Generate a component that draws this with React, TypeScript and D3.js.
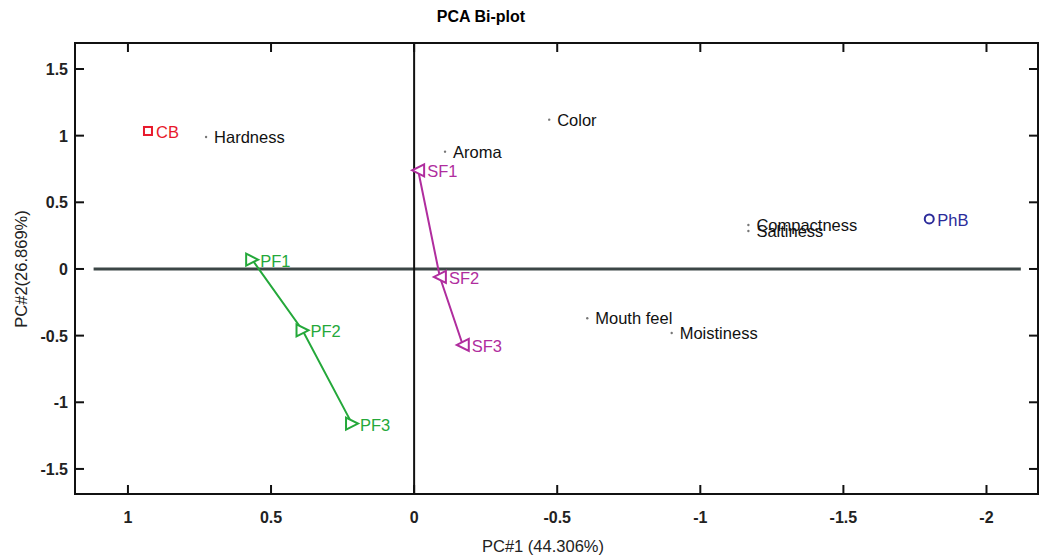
import React from 'react';
import * as d3 from 'd3';

// sample scores (PC1, PC2)
const sampleNames = ['CB', 'PhB'];
const samplePc1 = [0.93, -1.80];
const samplePc2 = [1.035, 0.375];
const sampleShapes = ['square', 'circle'];
const sampleColors = ['#e8192c', '#2b2b9a'];

// formulation paths
const pfNames = ['PF1', 'PF2', 'PF3'];
const pfPc1 = [0.566, 0.39, 0.217];
const pfPc2 = [0.07, -0.46, -1.16];
const sfNames = ['SF1', 'SF2', 'SF3'];
const sfPc1 = [-0.014, -0.09, -0.17];
const sfPc2 = [0.74, -0.06, -0.57];

// attribute loadings
const attrNames = ['Hardness', 'Aroma', 'Color', 'Compactness', 'Saltiness', 'Mouth feel', 'Moistiness'];
const attrPc1 = [0.727, -0.108, -0.472, -1.168, -1.168, -0.605, -0.9];
const attrPc2 = [0.99, 0.88, 1.12, 0.33, 0.285, -0.37, -0.48];

const xTicks = [1, 0.5, 0, -0.5, -1, -1.5, -2];
const yTicks = [1.5, 1, 0.5, 0, -0.5, -1, -1.5];

const W = 1042;
const H = 556;
const left = 75, right = 1038, top = 43, bottom = 494;
const font = '"Liberation Sans", Arial, sans-serif';
const fs = 16.5;

export default function App() {
  const x = d3.scaleLinear().domain([1.185, -2.18]).range([left, right]);
  const y = d3.scaleLinear().domain([1.695, -1.688]).range([top, bottom]);
  const line = d3.line<[number, number]>().x(d => x(d[0])).y(d => y(d[1]));

  const tri = (cx: number, cy: number, dir: number) => {
    const s = 6;
    return `M${cx - dir * s},${cy - s}L${cx + dir * s},${cy}L${cx - dir * s},${cy + s}Z`;
  };

  const pfPts = pfPc1.map((v, i) => [v, pfPc2[i]] as [number, number]);
  const sfPts = sfPc1.map((v, i) => [v, sfPc2[i]] as [number, number]);
  const green = '#24a83a';
  const magenta = '#b02d9e';

  return (
    <svg width={W} height={H} style={{ position: 'absolute', left: 0, top: 0, background: '#fff' }} fontFamily={font}>
      <text x={481} y={22} textAnchor="middle" fontSize={16} fontWeight="bold">PCA Bi-plot</text>

      {/* zero lines */}
      <line x1={x(1.12)} x2={x(-2.12)} y1={y(0)} y2={y(0)} stroke="#3c4646" strokeWidth={3} />
      <line x1={x(0)} x2={x(0)} y1={top} y2={bottom} stroke="#111" strokeWidth={2} />

      {/* frame */}
      <rect x={left} y={top} width={right - left} height={bottom - top} fill="none" stroke="#111" strokeWidth={2} />

      {xTicks.map(t => (
        <g key={'x' + t}>
          <line x1={x(t)} x2={x(t)} y1={bottom} y2={bottom - 9} stroke="#111" strokeWidth={2} />
          <line x1={x(t)} x2={x(t)} y1={top} y2={top + 9} stroke="#111" strokeWidth={2} />
          <text x={x(t)} y={523} textAnchor="middle" fontSize={16} fontWeight="bold" fill="#222">{String(t)}</text>
        </g>
      ))}
      {yTicks.map(t => (
        <g key={'y' + t}>
          <line x1={left} x2={left + 9} y1={y(t)} y2={y(t)} stroke="#111" strokeWidth={2} />
          <line x1={right} x2={right - 9} y1={y(t)} y2={y(t)} stroke="#111" strokeWidth={2} />
          <text x={68} y={y(t) + 6} textAnchor="end" fontSize={16} fontWeight="bold" fill="#222">{String(t)}</text>
        </g>
      ))}

      <text x={543} y={552} textAnchor="middle" fontSize={16.5} fill="#222">PC#1 (44.306%)</text>
      <text transform={`translate(27,${y(0)}) rotate(-90)`} textAnchor="middle" fontSize={16.5} fill="#222">PC#2(26.869%)</text>

      {/* attributes */}
      {attrNames.map((n, i) => (
        <g key={n}>
          <circle cx={x(attrPc1[i])} cy={y(attrPc2[i])} r={1.2} fill="#777" />
          <text x={x(attrPc1[i]) + 8} y={y(attrPc2[i]) + 6} fontSize={fs} fill="#111">{n}</text>
        </g>
      ))}

      {/* samples */}
      {sampleNames.map((n, i) => {
        const cx = x(samplePc1[i]);
        const cy = y(samplePc2[i]);
        return (
          <g key={n}>
            {sampleShapes[i] === 'square'
              ? <rect x={cx - 4} y={cy - 4} width={8} height={8} fill="none" stroke={sampleColors[i]} strokeWidth={2} />
              : <circle cx={cx} cy={cy} r={4.5} fill="none" stroke={sampleColors[i]} strokeWidth={2} />}
            <text x={cx + 8} y={cy + 7} fontSize={fs} fill={sampleColors[i]}>{n}</text>
          </g>
        );
      })}

      {/* PF path */}
      <path d={line(pfPts) || ''} fill="none" stroke={green} strokeWidth={2} />
      {pfPts.map((p, i) => (
        <g key={pfNames[i]}>
          <path d={tri(x(p[0]), y(p[1]), 1)} fill="#fff" stroke={green} strokeWidth={2} />
          <text x={x(p[0]) + 8} y={y(p[1]) + 7} fontSize={fs} fill={green}>{pfNames[i]}</text>
        </g>
      ))}

      {/* SF path */}
      <path d={line(sfPts) || ''} fill="none" stroke={magenta} strokeWidth={2} />
      {sfPts.map((p, i) => (
        <g key={sfNames[i]}>
          <path d={tri(x(p[0]), y(p[1]), -1)} fill="#fff" stroke={magenta} strokeWidth={2} />
          <text x={x(p[0]) + 9} y={y(p[1]) + 7} fontSize={fs} fill={magenta}>{sfNames[i]}</text>
        </g>
      ))}
    </svg>
  );
}
